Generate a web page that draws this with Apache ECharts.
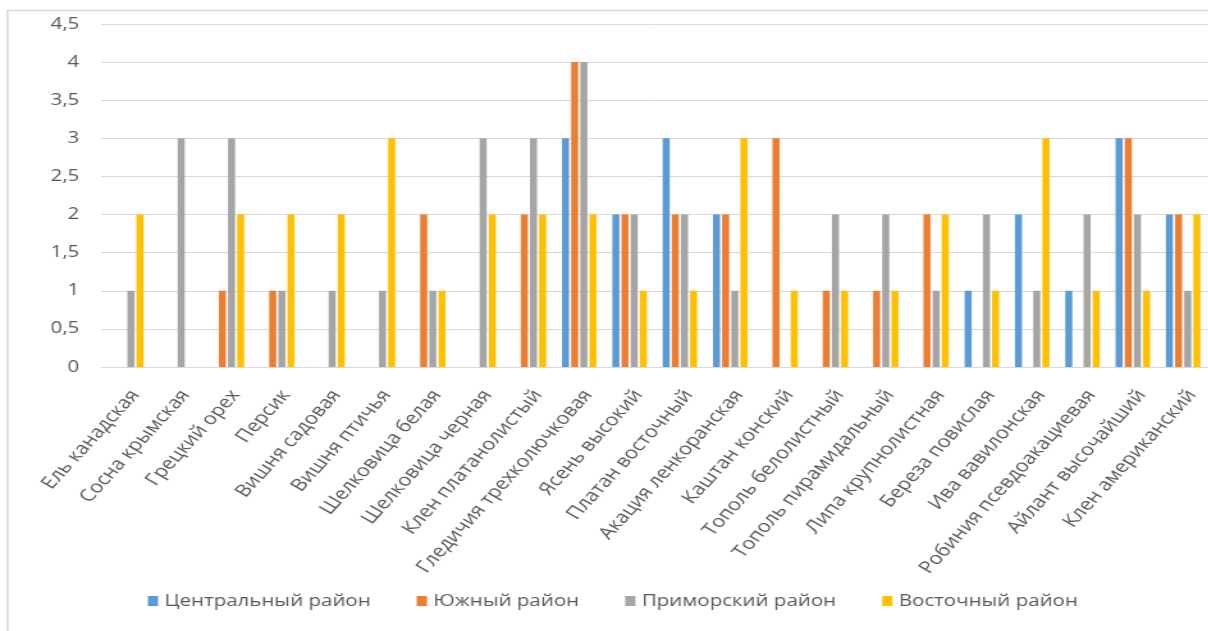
<!DOCTYPE html>
<html>
<head>
<meta charset="utf-8">
<script src="https://cdn.jsdelivr.net/npm/echarts@6/dist/echarts.min.js"></script>
<style>
  html, body { margin: 0; padding: 0; background: #ffffff; overflow: hidden; }
  /* The chart is laid out narrower and widened with scaleX, which gives the wide lettering */
  #chart {
    width: 944px;
    height: 631px;
    transform: scaleX(1.28);
    transform-origin: 0 0;
  }
</style>
</head>
<body>
<div id="chart"></div>
<script>
// Tree species counted per city district
const categories = [
  'Ель канадская', 'Сосна крымская', 'Грецкий орех', 'Персик', 'Вишня садовая',
  'Вишня птичья', 'Шелковица белая', 'Шелковица черная', 'Клен платанолистый',
  'Гледичия трехколючковая', 'Ясень высокий', 'Платан восточный', 'Акация ленкоранская',
  'Каштан конский', 'Тополь белолистный', 'Тополь пирамидальный', 'Липа крупнолистная',
  'Береза повислая', 'Ива вавилонская', 'Робиния псевдоакациевая', 'Айлант высочайший',
  'Клен американский'
];

const seriesNames = ['Центральный район', 'Южный район', 'Приморский район', 'Восточный район'];

const central  = [0, 0, 0, 0, 0, 0, 0, 0, 0, 3, 2, 3, 2, 0, 0, 0, 0, 1, 2, 1, 3, 2];
const southern = [0, 0, 1, 1, 0, 0, 2, 0, 2, 4, 2, 2, 2, 3, 1, 1, 2, 0, 0, 0, 3, 2];
const seaside  = [1, 3, 3, 1, 1, 1, 1, 3, 3, 4, 2, 2, 1, 0, 2, 2, 1, 2, 1, 2, 2, 1];
const eastern  = [2, 0, 2, 2, 2, 3, 1, 2, 2, 2, 1, 1, 3, 1, 1, 1, 2, 1, 3, 1, 1, 2];

const seriesColors = ['#5B9BD5', '#ED7D31', '#A5A5A5', '#FFC000'];
const textColor = '#595959';
const fontFamily = '"Open Sans", "Noto Sans", sans-serif';

const chart = echarts.init(document.getElementById('chart'), null, { renderer: 'canvas' });

const values = [central, southern, seaside, eastern];

const option = {
  animation: false,
  backgroundColor: '#ffffff',
  color: seriesColors,
  textStyle: { fontFamily: fontFamily },
  graphic: [{
    type: 'rect',
    shape: { x: 5.9, y: 10.5, width: 1000, height: 700 },
    style: { fill: 'none', stroke: '#D9D9D9', lineWidth: 1.6 },
    silent: true,
    z: -1
  }],
  grid: { left: 79, right: -1.6, top: 24, bottom: 264, containLabel: false },
  legend: {
    bottom: 17,
    left: 110.5,
    itemWidth: 8,
    itemHeight: 10,
    itemGap: 36,
    icon: 'rect',
    textStyle: { color: textColor, fontSize: 16, fontFamily: fontFamily },
    data: seriesNames
  },
  xAxis: {
    type: 'category',
    data: categories,
    axisLine: { show: true, lineStyle: { color: '#D9D9D9', width: 1 } },
    axisTick: { show: false },
    axisLabel: {
      interval: 0,
      rotate: 54,
      margin: 20,
      verticalAlign: 'top',
      color: textColor,
      fontSize: 17,
      fontFamily: fontFamily
    }
  },
  yAxis: {
    type: 'value',
    min: 0,
    max: 4.5,
    interval: 0.5,
    axisLine: { show: false },
    axisTick: { show: false },
    splitLine: { lineStyle: { color: '#D9D9D9', width: 1 } },
    axisLabel: {
      margin: 17,
      color: textColor,
      fontSize: 16,
      fontFamily: fontFamily,
      formatter: v => String(v).replace('.', ',')
    }
  },
  series: seriesNames.map((name, i) => ({
    name: name,
    type: 'bar',
    data: values[i],
    barWidth: 5.5,
    barGap: '30%',
    itemStyle: { color: seriesColors[i] }
  }))
};

chart.setOption(option);
</script>
</body>
</html>
